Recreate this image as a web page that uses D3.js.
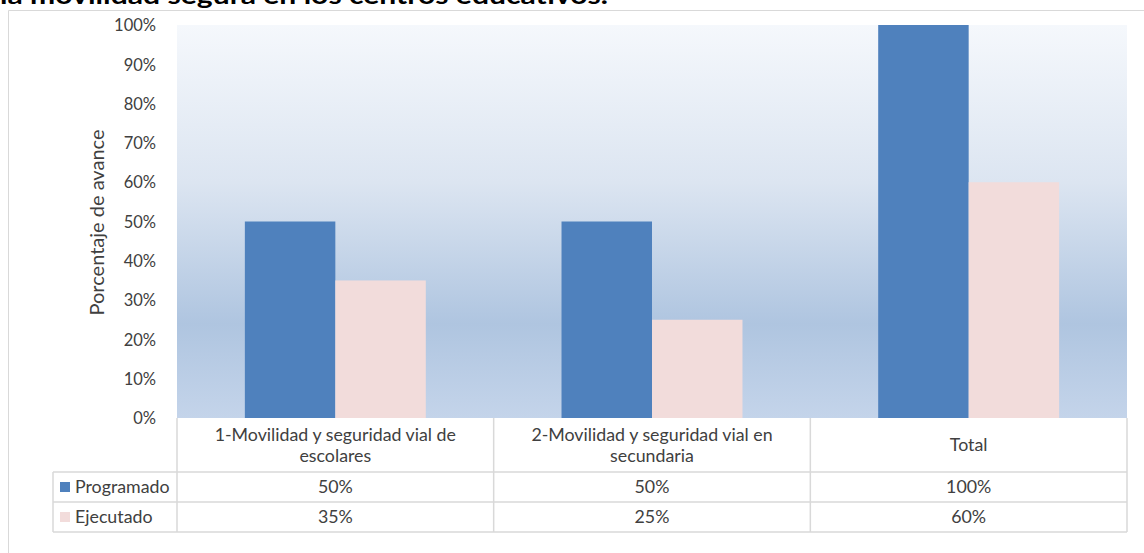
<!DOCTYPE html>
<html>
<head>
<meta charset="utf-8">
<script src="https://cdn.jsdelivr.net/npm/d3@7"></script>
<style>
  body { margin: 0; background: #fff; }
  svg { display: block; font-family: Lato, "Open Sans", sans-serif; }
</style>
</head>
<body>
<div id="chart"></div>
<script>
//Chart data
const categories = [
  ["1-Movilidad y seguridad vial de", "escolares"],
  ["2-Movilidad y seguridad vial en", "secundaria"],
  ["Total"]
];
const seriesNames = ["Programado", "Ejecutado"];
const programado = [50, 50, 100];
const ejecutado = [35, 25, 60];
const yTicks = [0, 10, 20, 30, 40, 50, 60, 70, 80, 90, 100];

const COLORS = ["#4f81bd", "#f2dcdb"];
const GRID = "#d9d9d9";
const TEXT = "#404040";

const W = 1144, H = 553;
const plot = {left: 177, right: 1127, top: 25, bottom: 418};
const rows = {cat: 472, prog: 502, ejec: 532, legLeft: 53};
const FS = 17.8;

const svg = d3.select("#chart").append("svg")
  .attr("width", W).attr("height", H);

//Title (cut off at top of picture)
svg.append("text")
  .attr("x", 0).attr("y", 3.5)
  .attr("font-size", 24).attr("font-weight", "bold")
  .attr("fill", "#000")
  .attr("textLength", 608).attr("lengthAdjust", "spacingAndGlyphs")
  .text("la movilidad segura en los centros educativos.");

//Outer chart border
svg.append("path")
  .attr("d", `M8.5,${H} V10.5 H${W}`)
  .attr("fill", "none").attr("stroke", GRID).attr("stroke-width", 1);

//Plot background gradient
const grad = svg.append("defs").append("linearGradient")
  .attr("id", "bg").attr("x1", 0).attr("y1", 0).attr("x2", 0).attr("y2", 1);
grad.append("stop").attr("offset", "0%").attr("stop-color", "#f5f8fc");
grad.append("stop").attr("offset", "40%").attr("stop-color", "#dce5f1");
grad.append("stop").attr("offset", "76%").attr("stop-color", "#afc5e0");
grad.append("stop").attr("offset", "100%").attr("stop-color", "#c4d4ea");

svg.append("rect")
  .attr("x", plot.left).attr("y", plot.top)
  .attr("width", plot.right - plot.left).attr("height", plot.bottom - plot.top)
  .attr("fill", "url(#bg)");

//Scales
const x0 = d3.scaleBand().domain(d3.range(categories.length))
  .range([plot.left, plot.right]).paddingInner(0).paddingOuter(0);
const x1 = d3.scaleBand().domain(seriesNames)
  .range([0, x0.bandwidth()]).paddingOuter(0.75).paddingInner(0);
const y = d3.scaleLinear().domain([0, 100]).range([plot.bottom, plot.top]);

//Bars
const data = [programado, ejecutado];
seriesNames.forEach(function(name, s) {
  svg.append("g").selectAll("rect")
    .data(data[s])
    .join("rect")
    .attr("x", (d, i) => x0(i) + x1(name))
    .attr("y", d => y(d))
    .attr("width", x1.bandwidth())
    .attr("height", d => y(0) - y(d))
    .attr("fill", COLORS[s]);
});

//Y axis
const yAxis = svg.append("g")
  .attr("transform", `translate(${plot.left - 18},0)`)
  .call(d3.axisLeft(y).tickValues(yTicks).tickFormat(d => d + "%").tickSize(0));
yAxis.select(".domain").remove();
yAxis.selectAll("text")
  .attr("font-size", 16.5).attr("fill", TEXT).attr("font-family", "Lato, sans-serif")
  .attr("dy", "0.35em");

svg.append("text")
  .attr("transform", `translate(104,${(plot.top + plot.bottom) / 2 + 1}) rotate(-90)`)
  .attr("text-anchor", "middle")
  .attr("font-size", 20).attr("fill", TEXT)
  .text("Porcentaje de avance");

//Data table
const table = svg.append("g").attr("fill", "none").attr("stroke", GRID).attr("stroke-width", 1.5);
//vertical lines
x0.domain().concat([categories.length]).forEach(function(i) {
  const xx = i < categories.length ? x0(i) : plot.right;
  table.append("line").attr("x1", xx).attr("x2", xx).attr("y1", plot.bottom).attr("y2", rows.ejec);
});
table.append("line").attr("x1", rows.legLeft).attr("x2", rows.legLeft).attr("y1", rows.cat).attr("y2", rows.ejec);
//horizontal lines
[rows.cat, rows.prog, rows.ejec].forEach(function(yy) {
  table.append("line").attr("x1", rows.legLeft).attr("x2", plot.right).attr("y1", yy).attr("y2", yy);
});

//Category labels
categories.forEach(function(lines, i) {
  const cx = x0(i) + x0.bandwidth() / 2;
  const cy = (plot.bottom + rows.cat) / 2;
  const t = svg.append("text")
    .attr("text-anchor", "middle").attr("font-size", FS).attr("fill", TEXT);
  lines.forEach(function(l, k) {
    t.append("tspan").attr("x", cx)
      .attr("y", cy + (k - (lines.length - 1) / 2) * 21 + 6)
      .text(l);
  });
});

//Legend rows + values
const rowMid = [(rows.cat + rows.prog) / 2, (rows.prog + rows.ejec) / 2];
seriesNames.forEach(function(name, s) {
  svg.append("rect")
    .attr("x", 60).attr("y", rowMid[s] - 5)
    .attr("width", 10).attr("height", 10)
    .attr("fill", COLORS[s]);
  svg.append("text")
    .attr("x", 75).attr("y", rowMid[s] + 6)
    .attr("font-size", FS).attr("fill", TEXT)
    .text(name);
  data[s].forEach(function(v, i) {
    svg.append("text")
      .attr("x", x0(i) + x0.bandwidth() / 2).attr("y", rowMid[s] + 6)
      .attr("text-anchor", "middle")
      .attr("font-size", FS).attr("fill", TEXT)
      .text(v + "%");
  });
});
</script>
</body>
</html>
